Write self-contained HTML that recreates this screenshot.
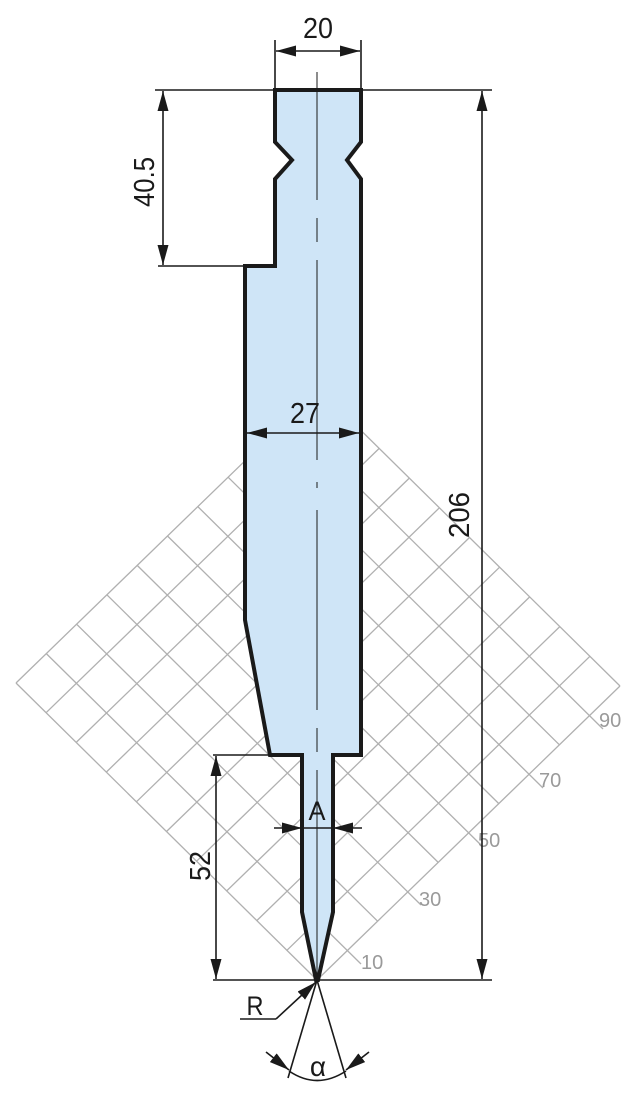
<!DOCTYPE html>
<html><head><meta charset="utf-8"><style>
html,body{margin:0;padding:0;background:#fff;}
svg{display:block;}
text{font-family:"Liberation Sans",sans-serif;}
</style></head><body>
<svg width="639" height="1100" viewBox="0 0 639 1100" xmlns="http://www.w3.org/2000/svg">
<defs>
<marker id="ar" viewBox="0 0 20 11" refX="20" refY="5.5" markerWidth="20" markerHeight="11" markerUnits="userSpaceOnUse" orient="auto-start-reverse">
<path d="M0,0 L20,5.5 L0,11 Z" fill="#1a1a1a"/></marker>
</defs>
<g stroke="#b0b0b0" stroke-width="1.3">
<line x1="317" y1="980" x2="620" y2="686"/>
<line x1="286.9" y1="950.3" x2="589.9" y2="656.3"/>
<line x1="256.8" y1="920.6" x2="559.8" y2="626.6"/>
<line x1="226.7" y1="890.9" x2="529.7" y2="596.9"/>
<line x1="196.6" y1="861.2" x2="499.6" y2="567.2"/>
<line x1="166.5" y1="831.5" x2="469.5" y2="537.5"/>
<line x1="136.4" y1="801.8" x2="439.4" y2="507.8"/>
<line x1="106.3" y1="772.1" x2="409.3" y2="478.1"/>
<line x1="76.2" y1="742.4" x2="379.2" y2="448.4"/>
<line x1="46.1" y1="712.7" x2="349.1" y2="418.7"/>
<line x1="16" y1="683" x2="319" y2="389"/>
<line x1="317" y1="980" x2="16" y2="683"/>
<line x1="361" y1="964" x2="46.3" y2="653.6"/>
<line x1="377.6" y1="921.2" x2="76.6" y2="624.2"/>
<line x1="421" y1="905" x2="106.9" y2="594.8"/>
<line x1="438.2" y1="862.4" x2="137.2" y2="565.4"/>
<line x1="482" y1="846" x2="167.5" y2="536"/>
<line x1="498.8" y1="803.6" x2="197.8" y2="506.6"/>
<line x1="543" y1="788" x2="228.1" y2="477.2"/>
<line x1="559.4" y1="744.8" x2="258.4" y2="447.8"/>
<line x1="603" y1="729" x2="288.7" y2="418.4"/>
<line x1="620" y1="686" x2="319" y2="389"/>
</g>
<g fill="#9a9a9a" font-size="20">
<text x="361" y="969">10</text>
<text x="419" y="906">30</text>
<text x="478" y="847">50</text>
<text x="539" y="787">70</text>
<text x="599" y="727">90</text>
</g>
<path d="M275,90 L361,90 L361,142 L347,160 L361,179 L361,755 L333,755 L333,912 L318,980 L316,980 L302,912 L302,755 L270,755 L245,620 L245,266 L275,266 L275,179 L292,160 L275,142 Z" fill="#cfe5f7" stroke="#1a1a1a" stroke-width="4" stroke-linejoin="miter"/>
<line x1="317" y1="72" x2="317" y2="980" stroke="#1a1a1a" stroke-width="1" stroke-dasharray="128,18,24,18,200,22,6,22,200,18,24,18,300"/>
<g stroke="#1a1a1a" stroke-width="1.6" fill="none">
<line x1="275" y1="40" x2="275" y2="90"/>
<line x1="361" y1="40" x2="361" y2="90"/>
<line x1="276" y1="51" x2="360" y2="51" marker-start="url(#ar)" marker-end="url(#ar)"/>
<line x1="155" y1="90" x2="492" y2="90"/>
<line x1="158" y1="266" x2="245" y2="266"/>
<line x1="163" y1="91" x2="163" y2="265" marker-start="url(#ar)" marker-end="url(#ar)"/>
<line x1="482" y1="91" x2="482" y2="979" marker-start="url(#ar)" marker-end="url(#ar)"/>
<line x1="317" y1="980" x2="492" y2="980"/>
<line x1="213" y1="980" x2="317" y2="980"/>
<line x1="213" y1="755" x2="302" y2="755"/>
<line x1="216" y1="756" x2="216" y2="979" marker-start="url(#ar)" marker-end="url(#ar)"/>
<line x1="247" y1="433" x2="359" y2="433" marker-start="url(#ar)" marker-end="url(#ar)"/>
<line x1="274" y1="828" x2="302" y2="828" marker-end="url(#ar)"/>
<line x1="362" y1="828" x2="333" y2="828" marker-end="url(#ar)"/>
<line x1="302" y1="828" x2="333" y2="828"/>
<line x1="240" y1="1019" x2="276" y2="1019"/>
<line x1="276" y1="1019" x2="316" y2="982" marker-end="url(#ar)"/>
<line x1="317" y1="980" x2="288" y2="1078"/>
<line x1="317" y1="980" x2="346" y2="1078"/>
<path d="M289,1071 Q317,1090 346,1071"/>
<line x1="266" y1="1052" x2="289" y2="1070" marker-end="url(#ar)"/>
<line x1="369" y1="1052" x2="346" y2="1070" marker-end="url(#ar)"/>
</g>
<g fill="#1a1a1a" font-size="29">
<text x="318" y="38" text-anchor="middle" textLength="30" lengthAdjust="spacingAndGlyphs">20</text>
<text x="305" y="423" text-anchor="middle" textLength="30" lengthAdjust="spacingAndGlyphs">27</text>
<text x="317" y="820" text-anchor="middle" font-size="27" textLength="17" lengthAdjust="spacingAndGlyphs">A</text>
<text x="255" y="1015" text-anchor="middle" font-size="27" textLength="17" lengthAdjust="spacingAndGlyphs">R</text>
<text x="318" y="1076" text-anchor="middle" font-size="28">α</text>
<text transform="translate(154,182) rotate(-90)" text-anchor="middle" textLength="50" lengthAdjust="spacingAndGlyphs">40.5</text>
<text transform="translate(469,515) rotate(-90)" text-anchor="middle" textLength="46" lengthAdjust="spacingAndGlyphs">206</text>
<text transform="translate(210,866) rotate(-90)" text-anchor="middle" textLength="30" lengthAdjust="spacingAndGlyphs">52</text>
</g>
</svg>
</body></html>
